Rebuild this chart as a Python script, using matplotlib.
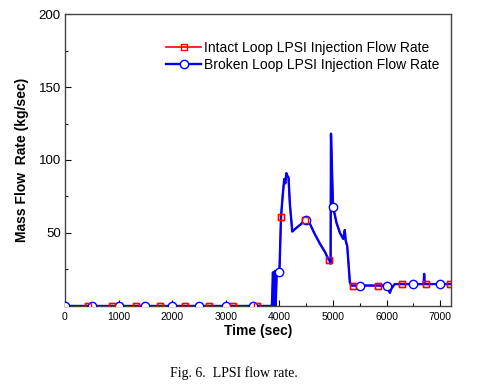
import numpy as np
import matplotlib as mpl
mpl.use('Agg')
import matplotlib.pyplot as plt
from matplotlib.ticker import MultipleLocator

plt.rcParams['font.family'] = ['Liberation Sans', 'DejaVu Sans']

# time (sec) and flow rate (kg/sec)
time_sec = [0, 430, 500, 880, 1000, 1330, 1500, 1780, 2000, 2230, 2500, 2680,
            3000, 3130, 3500, 3580, 3860, 3880, 3895, 3915, 3930, 3950, 3965,
            4000, 4030, 4060, 4090, 4110, 4130, 4150, 4170, 4195, 4240, 4300,
            4400, 4480, 4500, 4560, 4650, 4750, 4850, 4900, 4930, 4955, 4962,
            5000, 5030, 5065, 5130, 5190, 5220, 5235, 5265, 5315, 5345, 5380,
            5500, 5830, 6000, 6030, 6060, 6090, 6150, 6280, 6500, 6690, 6700,
            6710, 6730, 7000, 7180]
broken_flow = [0, 0, 0, 0, 0, 0, 0, 0, 0, 0, 0, 0,
               0, 0, 0, 0, 0, 23, 0, 24, 0, 24, 21,
               23, 61, 75, 87, 84, 91, 89, 88, 70, 51, 53,
               56, 59, 59, 57, 50, 43, 37, 33, 31.5, 29, 118,
               68, 63, 57, 50, 46, 52, 45, 41, 16, 14, 14,
               14, 14, 14, 12, 9, 12, 15, 15, 15, 15, 22,
               15, 15, 15, 15]
# intact loop curve lies under the broken loop curve
intact_flow = [0, 0, 0, 0, 0, 0, 0, 0, 0, 0, 0, 0,
               0, 0, 0, 0, 0, 23, 0, 24, 0, 24, 21,
               23, 61, 75, 87, 84, 91, 89, 88, 70, 51, 53,
               56, 59, 59, 57, 50, 43, 37, 33, 31.5, 29, 118,
               68, 63, 57, 50, 46, 52, 45, 41, 16, 14, 14,
               14, 14, 14, 12, 9, 12, 15, 15, 15, 15, 22,
               15, 15, 15, 15]

intact_marks = [430, 880, 1330, 1780, 2230, 2680, 3130, 3580, 4030, 4480,
                4930, 5380, 5830, 6280, 6730, 7180]
broken_marks = [0, 500, 1000, 1500, 2000, 2500, 3000, 3500, 4000, 4500,
                5000, 5500, 6000, 6500, 7000]

t = np.array(time_sec)

fig = plt.figure(figsize=(4.95, 3.86), dpi=100)
ax = fig.add_axes([0.1313, 0.2073, 0.7797, 0.7564])

ax.plot(t, intact_flow, color='red', lw=1.2, marker='s', ms=5,
        mfc='none', mec='red', mew=1.0,
        markevery=np.isin(t, intact_marks).tolist(),
        label='Intact Loop LPSI Injection Flow Rate', zorder=2)
ax.plot(t, broken_flow, color='blue', lw=1.7, marker='o', ms=6,
        mfc='white', mec='blue', mew=1.0,
        markevery=np.isin(t, broken_marks).tolist(),
        label='Broken Loop LPSI Injection Flow Rate', zorder=3)
# put the red squares over the blue line
ax.plot(t, intact_flow, color='none', marker='s', ms=5,
        mfc='none', mec='red', mew=1.0,
        markevery=np.isin(t, intact_marks).tolist(), zorder=4)

ax.set_xlim(0, 7200)
ax.set_ylim(0, 200)
ax.xaxis.set_major_locator(MultipleLocator(1000))
ax.xaxis.set_minor_locator(MultipleLocator(500))
ax.set_yticks([50, 100, 150, 200])
ax.yaxis.set_minor_locator(MultipleLocator(25))
ax.tick_params(which='both', direction='in', top=False, right=False)
ax.tick_params(which='major', length=4, width=0.8)
ax.tick_params(which='minor', length=2.5, width=0.8)
ax.tick_params(axis='x', labelsize=7.5, pad=4)
ax.tick_params(axis='y', labelsize=9.5, pad=3)
for s in ax.spines.values():
    s.set_color('#444444')
    s.set_linewidth(1.0)

ax.set_xlabel('Time (sec)', fontsize=10, fontweight='bold', labelpad=2)
ax.set_ylabel('Mass Flow  Rate (kg/sec)', fontsize=10, fontweight='bold',
              labelpad=7)

ax.legend(loc='upper left', bbox_to_anchor=(0.322, 0.912),
          bbox_transform=fig.transFigure, frameon=False, fontsize=10,
          borderpad=0, handlelength=2.5, handletextpad=0.2,
          labelspacing=0.2)

fig.text(0.473, 0.015, 'Fig. 6.  LPSI flow rate.', family='Liberation Serif',
         fontsize=10, ha='center', va='bottom')

fig.savefig('out.png', dpi=100)
